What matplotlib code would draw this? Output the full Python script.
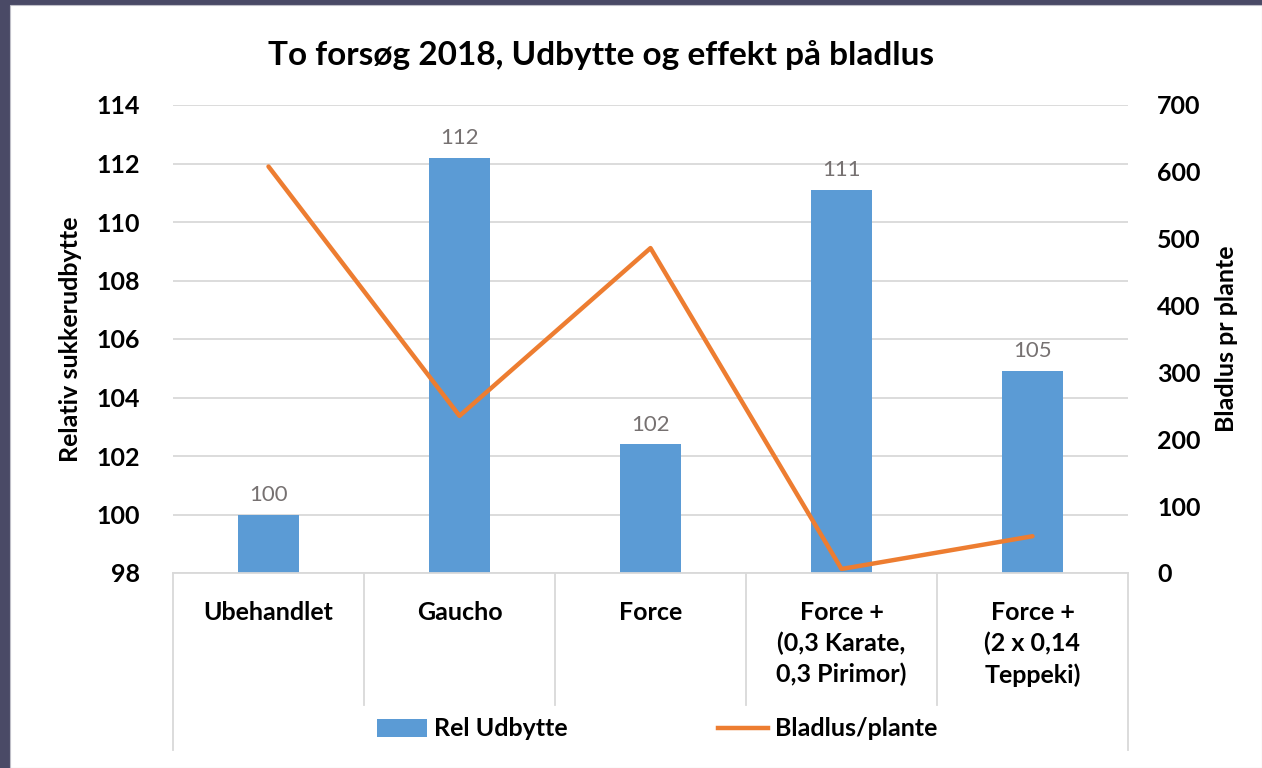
import matplotlib.pyplot as plt
from matplotlib.patches import Rectangle, Patch
from matplotlib.lines import Line2D
import matplotlib.transforms as mtransforms

plt.rcParams['font.family'] = ['Lato', 'DejaVu Sans']

# data
categories = ['Ubehandlet', 'Gaucho', 'Force',
              'Force +\n(0,3 Karate,\n0,3 Pirimor)', 'Force +\n(2 x 0,14\nTeppeki)']
rel_udbytte = [100.0, 112.2, 102.4, 111.1, 104.9]
bar_labels = ['100', '112', '102', '111', '105']
bladlus = [608, 235, 486, 6, 55]
left_ticks = [98, 100, 102, 104, 106, 108, 110, 112, 114]
right_ticks = [0, 100, 200, 300, 400, 500, 600, 700]

blue = '#5B9BD5'
orange = '#ED7D31'
grid_col = '#D9D9D9'
fs = 18

W, H = 1262, 768
fig = plt.figure(figsize=(W / 100, H / 100), dpi=100)
fig.patch.set_facecolor('#4A4A66')
fig.patches.append(Rectangle((10 / W, 0), 1 - 10 / W, 1 - 5 / H,
                             transform=fig.transFigure, facecolor='white',
                             edgecolor='#BFBFC8', lw=0.8, zorder=-5))

ax = fig.add_axes([173 / W, 1 - 573 / H, 955 / W, 468 / H])
ax.set_facecolor('none')
x = list(range(len(categories)))

ax.bar(x, [v - 98 for v in rel_udbytte], bottom=98, width=0.32, color=blue, zorder=2)
for xi, v, lab in zip(x, rel_udbytte, bar_labels):
    ax.annotate(lab, (xi, v), xytext=(0, 7), textcoords='offset points',
                ha='center', va='bottom', fontsize=16, color='#767171')

ax.set_xlim(-0.5, len(categories) - 0.5)
ax.set_ylim(98, 114)
ax.set_yticks(left_ticks)
ax.set_yticklabels([str(t) for t in left_ticks], fontsize=fs, fontweight='bold')
ax.yaxis.grid(True, color=grid_col, lw=1.3, zorder=0)
ax.set_axisbelow(True)
for s in ax.spines.values():
    s.set_visible(False)
ax.tick_params(axis='y', length=0, pad=24)
ax.set_xticks(x)
ax.set_xticklabels(categories, fontsize=fs, fontweight='bold', linespacing=1.4)
ax.tick_params(axis='x', length=0, pad=20)
ax.set_ylabel('Relativ sukkerudbytte', fontsize=fs, fontweight='bold', labelpad=10)

# category separators below the axis
trans = mtransforms.blended_transform_factory(ax.transData, ax.transAxes)
ax.plot([-0.5, len(categories) - 0.5], [0, 0], color=grid_col, lw=1.3,
        transform=trans, clip_on=False)
for b in range(len(categories) + 1):
    bottom = -0.378 if b in (0, len(categories)) else -0.282
    ax.plot([b - 0.5, b - 0.5], [0, bottom], color=grid_col, lw=1.3,
            transform=trans, clip_on=False)

ax2 = ax.twinx()
ax2.plot(x, bladlus, color=orange, lw=3.2, solid_capstyle='round', zorder=3)
ax2.set_ylim(0, 700)
ax2.set_yticks(right_ticks)
ax2.set_yticklabels([str(t) for t in right_ticks], fontsize=fs, fontweight='bold')
ax2.tick_params(axis='y', length=0, pad=21)
for s in ax2.spines.values():
    s.set_visible(False)
ax2.set_ylabel('Bladlus pr plante', fontsize=fs, fontweight='bold', labelpad=10)

fig.text(601 / W, 1 - 55 / H, 'To forsøg 2018, Udbytte og effekt på bladlus',
         ha='center', va='center', fontsize=24, fontweight='bold')

handles = [Patch(facecolor=blue), Line2D([], [], color=orange, lw=3.2)]
fig.legend(handles, ['Rel Udbytte', 'Bladlus/plante'], loc='center',
           bbox_to_anchor=(657 / W, 1 - 729 / H), ncol=2, frameon=False,
           prop={'size': fs, 'weight': 'bold'}, handlelength=2.0,
           handletextpad=0.3, columnspacing=6.0)

fig.savefig('out.png', dpi=100, facecolor=fig.get_facecolor())
